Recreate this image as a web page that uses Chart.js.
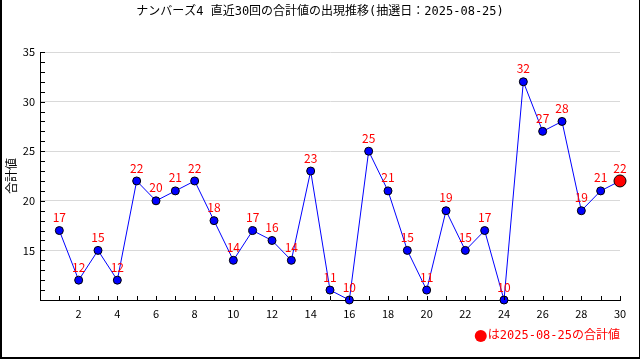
<!DOCTYPE html>
<html>
<head>
<meta charset="utf-8">
<script src="https://cdn.jsdelivr.net/npm/chart.js@4"></script>
<style>
  body { margin: 0; background: #fff; }
  #wrap { position: relative; width: 640px; height: 360px; }
  #frame { position: absolute; left: 0; top: 0; width: 637px; height: 357px;
           border-left: 2px solid #000; border-right: 2px solid #000; border-bottom: 2px solid #000;
           box-sizing: content-box; pointer-events: none; }
</style>
</head>
<body>
<div id="wrap">
  <canvas id="sumChart" width="640" height="360"></canvas>
  <div id="frame"></div>
</div>
<script>
const draws = [1, 2, 3, 4, 5, 6, 7, 8, 9, 10, 11, 12, 13, 14, 15, 16, 17, 18, 19, 20, 21, 22, 23, 24, 25, 26, 27, 28, 29, 30];
const sums = [17, 12, 15, 12, 22, 20, 21, 22, 18, 14, 17, 16, 14, 23, 11, 10, 25, 21, 15, 11, 19, 15, 17, 10, 32, 27, 28, 19, 21, 22];
const drawDate = '2025-08-25';
const titleText = 'ナンバーズ4 直近30回の合計値の出現推移(抽選日：' + drawDate + ')';
const noteText = 'は' + drawDate + 'の合計値';

const font = "'Noto Sans CJK JP', 'Noto Sans', sans-serif";
const monoFont = "'DejaVu Sans Mono', 'Noto Sans CJK JP', monospace";
const last = sums.length - 1;

// title, value labels, inner tick marks, note
const extras = {
  id: 'extras',
  afterDatasetsDraw(chart) {
    const ctx = chart.ctx;
    const xs = chart.scales.x, ys = chart.scales.y;
    const area = chart.chartArea;
    ctx.save();

    // tick marks pointing into the plot
    ctx.strokeStyle = '#000';
    ctx.lineWidth = 1;
    ctx.beginPath();
    for (let v = 1; v <= 30; v++) {
      const px = Math.round(xs.getPixelForValue(v)) + 0.5;
      ctx.moveTo(px, area.bottom);
      ctx.lineTo(px, area.bottom - 4);
    }
    for (let v = 11; v <= 35; v++) {
      const py = Math.round(ys.getPixelForValue(v)) + 0.5;
      ctx.moveTo(area.left, py);
      ctx.lineTo(area.left + 5, py);
    }
    ctx.stroke();

    // value labels
    ctx.fillStyle = '#ff0000';
    ctx.font = '12px ' + font;
    ctx.textAlign = 'center';
    ctx.textBaseline = 'middle';
    chart.getDatasetMeta(0).data.forEach((pt, i) => {
      ctx.fillText(String(sums[i]), pt.x, pt.y - 13);
    });

    // title
    ctx.fillStyle = '#000';
    ctx.font = '12px ' + monoFont;
    ctx.fillText(titleText, 320, 12);

    // note bottom right
    ctx.fillStyle = '#ff0000';
    ctx.textAlign = 'right';
    ctx.fillText(noteText, area.right, 336);
    const w = ctx.measureText(noteText).width;
    ctx.beginPath();
    ctx.arc(area.right - w - 7, 336, 6, 0, Math.PI * 2);
    ctx.fill();
    ctx.restore();
  }
};

new Chart(document.getElementById('sumChart').getContext('2d'), {
  type: 'line',
  data: {
    datasets: [{
      label: '合計値',
      data: draws.map((d, i) => ({ x: d, y: sums[i] })),
      borderColor: '#0000ff',
      borderWidth: 1,
      pointBackgroundColor: sums.map((s, i) => i === last ? '#ff0000' : '#0000ff'),
      pointBorderColor: '#000',
      pointBorderWidth: 1,
      pointRadius: sums.map((s, i) => i === last ? 6 : 4),
      tension: 0,
      clip: false
    }]
  },
  options: {
    responsive: false,
    animation: false,
    layout: { padding: { top: 52, right: 20, left: 0, bottom: 0 } },
    plugins: { legend: { display: false }, title: { display: false }, tooltip: { enabled: false } },
    scales: {
      x: {
        type: 'linear',
        min: 0,
        max: 30,
        grid: { display: false, drawTicks: false },
        border: { display: true, color: '#000', width: 1 },
        ticks: {
          stepSize: 1,
          autoSkip: false,
          maxRotation: 0,
          padding: 7,
          color: '#000',
          font: { family: font, size: 11 },
          callback: v => (v > 0 && v % 2 === 0) ? String(v) : ''
        },
        afterFit(scale) { scale.height = 60; }
      },
      y: {
        min: 10,
        max: 35,
        grid: { color: ctx => ctx.tick.value === 10 ? 'rgba(0,0,0,0)' : '#d9d9d9', drawTicks: false },
        border: { display: true, color: '#000', width: 1 },
        ticks: {
          stepSize: 5,
          padding: 5,
          color: '#000',
          font: { family: font, size: 11 },
          callback: v => v === 10 ? '' : String(v)
        },
        title: { display: true, text: '合計値', color: '#000', font: { family: font, size: 12 }, padding: 4 },
        afterFit(scale) { scale.width = 40; }
      }
    }
  },
  plugins: [extras]
});
</script>
</body>
</html>
